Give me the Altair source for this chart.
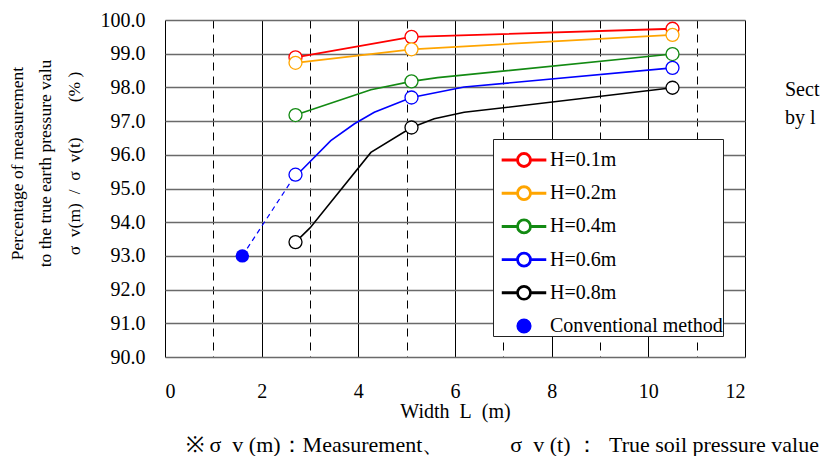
import altair as alt
import pandas as pd

SERIF = "Liberation Serif"
NB = "\u00a0"

SERIES = ["H=0.1m", "H=0.2m", "H=0.4m", "H=0.6m", "H=0.8m", "Conventional method"]
COLORS = ["#ff0000", "#ffa500", "#138a13", "#0000ff", "#000000", "#0000ff"]
LINE_WIDTHS = [1.8, 1.5, 1.2, 1.2, 1.1, 1.2]

# measured points (markers)
L_MEAS = [2.7, 5.1, 10.5]
H01 = [98.89, 99.50, 99.74]
H02 = [98.73, 99.13, 99.56]
H04 = [97.18, 98.18, 98.99]
H06 = [95.41, 97.70, 98.58]
H08 = [93.41, 96.81, 97.99]

# line vertices (bends of the drawn curves)
H01_LINE_L = [2.7, 5.1, 10.5]
H01_LINE_V = [98.89, 99.50, 99.74]
H02_LINE_L = [2.7, 5.1, 10.5]
H02_LINE_V = [98.73, 99.13, 99.56]
H04_LINE_L = [2.7, 4.26, 5.1, 5.64, 10.5]
H04_LINE_V = [97.18, 97.93, 98.18, 98.29, 98.99]
H06_LINE_L = [2.7, 2.81, 3.43, 3.92, 4.33, 5.1, 6.19, 10.5]
H06_LINE_V = [95.41, 95.52, 96.42, 96.92, 97.26, 97.70, 98.01, 98.58]
H08_LINE_L = [2.7, 3.0, 4.26, 5.1, 5.57, 6.19, 10.5]
H08_LINE_V = [93.41, 93.83, 96.07, 96.81, 97.07, 97.26, 97.99]

# conventional method
CONV_L = [1.6]
CONV_V = [93.0]
DASH_L = [1.6, 2.7]
DASH_V = [93.0, 95.41]

X_TICKS = list(range(0, 13))
Y_TICKS = list(range(90, 101))

Y_TITLE = [
    NB * 4 + "Percentage of measurement",
    "to the true earth pressure valu",
    "σ" + NB * 2 + "v(m)" + NB * 2 + "/" + NB * 2 + "σ" + NB * 2 + "v(t)" + NB * 8 + "(%" + NB + ")" + NB * 4,
]
X_TITLE = "Width" + NB * 2 + "L" + NB * 2 + "(m)"
NOTE = ("※ σ" + NB * 2 + "v (m)：Measurement、" + NB * 12 + "σ" + NB * 2 + "v (t)" + NB
        + "：" + NB * 2 + "True soil pressure value")
SIDE_TEXT_1 = "Sect"
SIDE_TEXT_2 = "by l"

line_rows = []
for s, Ls, Vs in [
    (SERIES[0], H01_LINE_L, H01_LINE_V),
    (SERIES[1], H02_LINE_L, H02_LINE_V),
    (SERIES[2], H04_LINE_L, H04_LINE_V),
    (SERIES[3], H06_LINE_L, H06_LINE_V),
    (SERIES[4], H08_LINE_L, H08_LINE_V),
]:
    for i, (l, v) in enumerate(zip(Ls, Vs)):
        line_rows.append({"series": s, "L": l, "v": v, "o": i})
lines_df = pd.DataFrame(line_rows)

pt_rows = []
for s, Vs in zip(SERIES[:5], [H01, H02, H04, H06, H08]):
    for l, v in zip(L_MEAS, Vs):
        pt_rows.append({"series": s, "L": l, "v": v})
pts_df = pd.DataFrame(pt_rows)

conv_df = pd.DataFrame({"series": [SERIES[5]] * len(CONV_L), "L": CONV_L, "v": CONV_V})
dash_df = pd.DataFrame({"L": DASH_L, "v": DASH_V, "o": list(range(len(DASH_L)))})

# legend glyphs: ring with line segments (filled shapes), and a dot
RING_SYM = (
    "M1.08,0A1.08,1.08,0,1,1,-1.08,0A1.08,1.08,0,1,1,1.08,0Z"
    "M0.91,0A0.91,0.91,0,1,0,-0.91,0A0.91,0.91,0,1,0,0.91,0Z"
    "M-3.3,-0.1L-1.06,-0.1L-1.06,0.1L-3.3,0.1Z"
    "M1.06,-0.1L3.3,-0.1L3.3,0.1L1.06,0.1Z"
)
DOT_SYM = "M1.05,0A1.05,1.05,0,1,1,-1.05,0A1.05,1.05,0,1,1,1.05,0Z"
IS_CONV = f"datum.value === '{SERIES[5]}'"

legend = alt.Legend(
    title=" ",
    titleFontSize=10,
    titlePadding=1,
    orient="none",
    legendX=328,
    legendY=119,
    direction="vertical",
    symbolSize=169,
    symbolStrokeWidth=0,
    symbolOpacity=1,
    symbolType={"expr": f"{IS_CONV} ? '{DOT_SYM}' : '{RING_SYM}'"},
    labelFont=SERIF,
    labelFontSize=20,
    labelColor="#000000",
    labelLimit=400,
    strokeColor="#222222",
    fillColor="#ffffff",
    padding=0,
    clipHeight=20,
    rowPadding=13.2,
    symbolOffset=21,
    labelOffset=16,
)

color = alt.Color("series:N", scale=alt.Scale(domain=SERIES, range=COLORS), sort=SERIES, legend=legend)

x_enc = alt.X(
    "L:Q",
    scale=alt.Scale(domain=[0, 12], nice=False, zero=False),
    axis=alt.Axis(
        values=X_TICKS,
        labelExpr="datum.value % 2 === 0 ? datum.label : ''",
        grid=True,
        gridColor="#000000",
        gridWidth=1,
        gridDash={"condition": {"test": "datum.value % 2 === 1", "value": [8, 6]}, "value": []},
        ticks=False,
        domain=False,
        labelFont=SERIF,
        labelFontSize=20,
        labelColor="#000000",
        labelPadding=24,
        title=X_TITLE,
        titleFont=SERIF,
        titleFontSize=20,
        titleFontWeight="normal",
        titleColor="#000000",
        titlePadding=0,
    ),
)
y_enc = alt.Y(
    "v:Q",
    scale=alt.Scale(domain=[90, 100], nice=False, zero=False),
    axis=alt.Axis(
        values=Y_TICKS,
        format=".1f",
        grid=True,
        gridColor="#6a6a6a",
        gridWidth=1.5,
        ticks=False,
        domain=False,
        labelFont=SERIF,
        labelFontSize=20,
        labelColor="#000000",
        labelPadding=20,
        labelOverlap=False,
        title=Y_TITLE,
        titleFont=SERIF,
        titleFontSize=17.5,
        titleFontWeight="normal",
        titleColor="#000000",
        titleLineHeight=28.5,
        titleAngle=270,
        titleAlign="center",
        titleBaseline="top",
        titleX=-157,
        titleY=143,
    ),
)

sw = alt.StrokeWidth("series:N", scale=alt.Scale(domain=SERIES, range=LINE_WIDTHS), legend=None)

lines = alt.Chart(lines_df).mark_line().encode(
    x=x_enc, y=y_enc, color=color, strokeWidth=sw, order="o:Q", detail="series:N"
)

dash = alt.Chart(dash_df).mark_line(color="#0000ff", strokeDash=[5, 4], strokeWidth=1.2).encode(
    x=x_enc, y=y_enc, order="o:Q"
)

points = alt.Chart(pts_df).mark_point(
    filled=False, fill="#ffffff", size=169, strokeWidth=1.3, opacity=1, shape="circle"
).encode(x=x_enc, y=y_enc, color=color)

conv = alt.Chart(conv_df).mark_point(filled=True, size=180, opacity=1, shape="circle").encode(
    x=x_enc, y=y_enc, color=color
)

note = alt.Chart(pd.DataFrame({"t": [NOTE]})).mark_text(
    align="left", baseline="middle", font=SERIF, fontSize=22, color="#000000",
    limit=650, ellipsis=""
).encode(text="t:N", x=alt.value(21), y=alt.value(425))

side1 = alt.Chart(pd.DataFrame({"t": [SIDE_TEXT_1]})).mark_text(
    align="left", baseline="middle", font=SERIF, fontSize=20, color="#000000"
).encode(text="t:N", x=alt.value(620), y=alt.value(70))

side2 = alt.Chart(pd.DataFrame({"t": [SIDE_TEXT_2]})).mark_text(
    align="left", baseline="middle", font=SERIF, fontSize=20, color="#000000"
).encode(text="t:N", x=alt.value(620), y=alt.value(98))

chart = (
    alt.layer(lines, dash, points, conv, note, side1, side2)
    .properties(width=580, height=337, padding={"left": 0, "top": 2, "right": 0, "bottom": 0})
    .configure_view(stroke="#000000", strokeWidth=1.5)
    .configure(background="#ffffff")
)

chart.save("out.html", embed_options={"renderer": "svg", "actions": False})
